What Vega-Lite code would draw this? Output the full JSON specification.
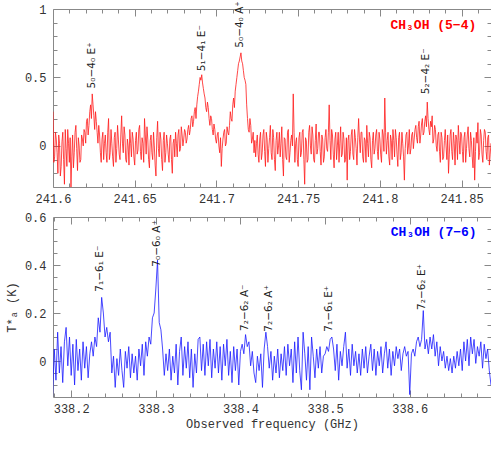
{
"$schema": "https://vega.github.io/schema/vega-lite/v6.json",
"padding": {"left": 4, "top": 0, "right": 1, "bottom": 5},
"spacing": 5,
"config": {
  "font": "Liberation Mono",
  "view": {"stroke": "#888", "strokeWidth": 1},
  "axis": {"grid": false, "domain": false, "labelFont": "Liberation Mono", "labelFontSize": 12, "labelColor": "#333", "titleFont": "Liberation Mono", "titleFontSize": 12, "titleFontWeight": "normal", "titleColor": "#333", "tickColor": "#888", "tickWidth": 1, "labelFlush": false, "labelOverlap": false}
},
"datasets": {
"s54": [
{"f":241.600,"t":0.25},{"f":241.601,"t":-0.08},{"f":241.602,"t":0.05},{"f":241.603,"t":-0.2},{"f":241.604,"t":0.02},{"f":241.605,"t":-0.15},{"f":241.606,"t":0.1},{"f":241.607,"t":-0.28},{"f":241.608,"t":-0.02},{"f":241.609,"t":0.12},
{"f":241.610,"t":-0.12},{"f":241.611,"t":-0.3},{"f":241.612,"t":0.08},{"f":241.613,"t":-0.05},{"f":241.614,"t":0.15},{"f":241.615,"t":-0.18},{"f":241.616,"t":0.0},{"f":241.617,"t":-0.1},{"f":241.618,"t":0.05},{"f":241.619,"t":0.12},
{"f":241.620,"t":0.02},{"f":241.621,"t":0.2},{"f":241.622,"t":0.15},{"f":241.623,"t":0.3},{"f":241.624,"t":0.38},{"f":241.625,"t":0.22},{"f":241.626,"t":0.25},{"f":241.627,"t":0.1},{"f":241.628,"t":0.15},{"f":241.629,"t":-0.05},
{"f":241.630,"t":0.05},{"f":241.631,"t":-0.1},{"f":241.632,"t":0.08},{"f":241.633,"t":-0.12},{"f":241.634,"t":0.2},{"f":241.635,"t":-0.05},{"f":241.636,"t":0.02},{"f":241.637,"t":-0.15},{"f":241.638,"t":0.1},{"f":241.639,"t":-0.02},
{"f":241.640,"t":0.05},{"f":241.641,"t":-0.1},{"f":241.642,"t":0.22},{"f":241.643,"t":-0.05},{"f":241.644,"t":0.08},{"f":241.645,"t":-0.12},{"f":241.646,"t":0.0},{"f":241.647,"t":0.12},{"f":241.648,"t":-0.08},{"f":241.649,"t":0.05},
{"f":241.650,"t":-0.14},{"f":241.651,"t":0.1},{"f":241.652,"t":-0.03},{"f":241.653,"t":0.15},{"f":241.654,"t":-0.1},{"f":241.655,"t":0.02},{"f":241.656,"t":0.2},{"f":241.657,"t":-0.06},{"f":241.658,"t":0.05},{"f":241.659,"t":-0.16},
{"f":241.660,"t":0.08},{"f":241.661,"t":-0.1},{"f":241.662,"t":0.0},{"f":241.663,"t":-0.22},{"f":241.664,"t":0.18},{"f":241.665,"t":-0.08},{"f":241.666,"t":0.05},{"f":241.667,"t":-0.18},{"f":241.668,"t":0.1},{"f":241.669,"t":-0.05},
{"f":241.670,"t":0.02},{"f":241.671,"t":-0.12},{"f":241.672,"t":0.08},{"f":241.673,"t":-0.2},{"f":241.674,"t":0.05},{"f":241.675,"t":0.1},{"f":241.676,"t":-0.08},{"f":241.677,"t":0.12},{"f":241.678,"t":-0.02},{"f":241.679,"t":0.08},
{"f":241.680,"t":0.05},{"f":241.681,"t":0.1},{"f":241.682,"t":0.05},{"f":241.683,"t":0.15},{"f":241.684,"t":0.12},{"f":241.685,"t":0.22},{"f":241.686,"t":0.18},{"f":241.687,"t":0.28},{"f":241.688,"t":0.3},{"f":241.689,"t":0.4},
{"f":241.690,"t":0.5},{"f":241.691,"t":0.52},{"f":241.692,"t":0.42},{"f":241.693,"t":0.35},{"f":241.694,"t":0.25},{"f":241.695,"t":0.28},{"f":241.696,"t":0.15},{"f":241.697,"t":0.2},{"f":241.698,"t":0.08},{"f":241.699,"t":0.12},
{"f":241.700,"t":0.02},{"f":241.701,"t":0.1},{"f":241.702,"t":-0.05},{"f":241.703,"t":-0.15},{"f":241.704,"t":0.05},{"f":241.705,"t":0.12},{"f":241.706,"t":0.02},{"f":241.707,"t":0.1},{"f":241.708,"t":0.15},{"f":241.709,"t":0.2},
{"f":241.710,"t":0.3},{"f":241.711,"t":0.28},{"f":241.712,"t":0.45},{"f":241.713,"t":0.55},{"f":241.714,"t":0.62},{"f":241.715,"t":0.68},{"f":241.716,"t":0.6},{"f":241.717,"t":0.5},{"f":241.718,"t":0.45},{"f":241.719,"t":0.2},
{"f":241.720,"t":0.1},{"f":241.721,"t":0.15},{"f":241.722,"t":0.05},{"f":241.723,"t":-0.05},{"f":241.724,"t":-0.08},{"f":241.725,"t":0.08},{"f":241.726,"t":-0.12},{"f":241.727,"t":0.1},{"f":241.728,"t":-0.05},{"f":241.729,"t":0.12},
{"f":241.730,"t":-0.15},{"f":241.731,"t":0.05},{"f":241.732,"t":-0.02},{"f":241.733,"t":0.15},{"f":241.734,"t":-0.1},{"f":241.735,"t":0.06},{"f":241.736,"t":-0.18},{"f":241.737,"t":0.1},{"f":241.738,"t":0.0},{"f":241.739,"t":-0.08},
{"f":241.740,"t":0.14},{"f":241.741,"t":-0.22},{"f":241.742,"t":0.05},{"f":241.743,"t":-0.1},{"f":241.744,"t":0.12},{"f":241.745,"t":-0.05},{"f":241.746,"t":0.08},{"f":241.747,"t":0.38},{"f":241.748,"t":-0.12},{"f":241.749,"t":0.06},
{"f":241.750,"t":-0.15},{"f":241.751,"t":0.1},{"f":241.752,"t":-0.05},{"f":241.753,"t":0.12},{"f":241.754,"t":-0.28},{"f":241.755,"t":0.04},{"f":241.756,"t":-0.1},{"f":241.757,"t":0.15},{"f":241.758,"t":-0.06},{"f":241.759,"t":0.08},
{"f":241.760,"t":-0.12},{"f":241.761,"t":0.16},{"f":241.762,"t":-0.02},{"f":241.763,"t":0.1},{"f":241.764,"t":-0.14},{"f":241.765,"t":0.05},{"f":241.766,"t":-0.08},{"f":241.767,"t":0.12},{"f":241.768,"t":-0.04},{"f":241.769,"t":0.3},
{"f":241.770,"t":-0.1},{"f":241.771,"t":0.08},{"f":241.772,"t":-0.16},{"f":241.773,"t":0.1},{"f":241.774,"t":0.0},{"f":241.775,"t":-0.12},{"f":241.776,"t":0.14},{"f":241.777,"t":-0.06},{"f":241.778,"t":0.05},{"f":241.779,"t":-0.1},
{"f":241.780,"t":-0.25},{"f":241.781,"t":0.08},{"f":241.782,"t":-0.04},{"f":241.783,"t":0.12},{"f":241.784,"t":-0.1},{"f":241.785,"t":0.06},{"f":241.786,"t":-0.14},{"f":241.787,"t":0.2},{"f":241.788,"t":-0.05},{"f":241.789,"t":0.1},
{"f":241.790,"t":-0.12},{"f":241.791,"t":0.04},{"f":241.792,"t":0.15},{"f":241.793,"t":-0.08},{"f":241.794,"t":0.06},{"f":241.795,"t":-0.16},{"f":241.796,"t":0.1},{"f":241.797,"t":-0.02},{"f":241.798,"t":0.12},{"f":241.799,"t":-0.1},
{"f":241.800,"t":0.05},{"f":241.801,"t":-0.12},{"f":241.802,"t":0.08},{"f":241.803,"t":0.35},{"f":241.804,"t":-0.06},{"f":241.805,"t":0.1},{"f":241.806,"t":-0.14},{"f":241.807,"t":0.04},{"f":241.808,"t":0.12},{"f":241.809,"t":-0.08},
{"f":241.810,"t":0.06},{"f":241.811,"t":-0.15},{"f":241.812,"t":0.1},{"f":241.813,"t":-0.05},{"f":241.814,"t":0.02},{"f":241.815,"t":-0.25},{"f":241.816,"t":0.08},{"f":241.817,"t":-0.06},{"f":241.818,"t":0.12},{"f":241.819,"t":-0.02},
{"f":241.820,"t":0.1},{"f":241.821,"t":0.05},{"f":241.822,"t":0.15},{"f":241.823,"t":0.02},{"f":241.824,"t":0.18},{"f":241.825,"t":0.08},{"f":241.826,"t":0.2},{"f":241.827,"t":0.1},{"f":241.828,"t":0.22},{"f":241.829,"t":0.32},
{"f":241.830,"t":0.12},{"f":241.831,"t":0.18},{"f":241.832,"t":0.22},{"f":241.833,"t":0.05},{"f":241.834,"t":0.12},{"f":241.835,"t":-0.04},{"f":241.836,"t":0.1},{"f":241.837,"t":-0.12},{"f":241.838,"t":0.06},{"f":241.839,"t":-0.08},
{"f":241.840,"t":0.12},{"f":241.841,"t":-0.1},{"f":241.842,"t":-0.2},{"f":241.843,"t":0.08},{"f":241.844,"t":-0.04},{"f":241.845,"t":0.1},{"f":241.846,"t":-0.14},{"f":241.847,"t":0.05},{"f":241.848,"t":0.15},{"f":241.849,"t":-0.06},
{"f":241.850,"t":0.08},{"f":241.851,"t":-0.12},{"f":241.852,"t":0.1},{"f":241.853,"t":-0.02},{"f":241.854,"t":0.14},{"f":241.855,"t":-0.08},{"f":241.856,"t":0.04},{"f":241.857,"t":-0.16},{"f":241.858,"t":-0.25},{"f":241.859,"t":0.1},
{"f":241.860,"t":0.17},{"f":241.861,"t":-0.05},{"f":241.862,"t":0.08},{"f":241.863,"t":-0.12},{"f":241.864,"t":0.12},{"f":241.865,"t":-0.04},{"f":241.866,"t":0.06},{"f":241.867,"t":-0.14},{"f":241.868,"t":0.02},
{"f":241.6005,"t":-0.12},{"f":241.6015,"t":0.1},{"f":241.6025,"t":-0.05},{"f":241.6035,"t":0.08},{"f":241.6045,"t":-0.22},{"f":241.6055,"t":0.03},{"f":241.6065,"t":-0.1},{"f":241.6075,"t":0.12},{"f":241.6085,"t":-0.15},{"f":241.6095,"t":0.02},
{"f":241.6105,"t":0.06},{"f":241.6115,"t":-0.08},{"f":241.6125,"t":-0.16},{"f":241.6135,"t":0.1},{"f":241.6145,"t":-0.02},{"f":241.6155,"t":0.06},{"f":241.6165,"t":-0.12},{"f":241.6175,"t":0.08},{"f":241.6185,"t":0.0},{"f":241.6195,"t":0.1},
{"f":241.6205,"t":0.18},{"f":241.6215,"t":0.08},{"f":241.6225,"t":0.25},{"f":241.6235,"t":0.2},{"f":241.6245,"t":0.3},{"f":241.6255,"t":0.12},{"f":241.6265,"t":0.18},{"f":241.6275,"t":0.02},{"f":241.6285,"t":0.08},{"f":241.6295,"t":-0.12},
{"f":241.6305,"t":0.1},{"f":241.6315,"t":0.02},{"f":241.6325,"t":-0.05},{"f":241.6335,"t":0.1},{"f":241.6345,"t":-0.1},{"f":241.6355,"t":0.12},{"f":241.6365,"t":-0.08},{"f":241.6375,"t":0.06},{"f":241.6385,"t":-0.12},{"f":241.6395,"t":0.15},
{"f":241.6405,"t":-0.06},{"f":241.6415,"t":0.08},{"f":241.6425,"t":0.02},{"f":241.6435,"t":0.14},{"f":241.6445,"t":-0.1},{"f":241.6455,"t":0.05},{"f":241.6465,"t":-0.14},{"f":241.6475,"t":0.02},{"f":241.6485,"t":0.1},{"f":241.6495,"t":-0.08},
{"f":241.6505,"t":0.04},{"f":241.6515,"t":-0.06},{"f":241.6525,"t":0.12},{"f":241.6535,"t":-0.04},{"f":241.6545,"t":0.06},{"f":241.6555,"t":-0.12},{"f":241.6565,"t":0.08},{"f":241.6575,"t":0.14},{"f":241.6585,"t":-0.1},{"f":241.6595,"t":0.04},
{"f":241.6605,"t":-0.05},{"f":241.6615,"t":0.1},{"f":241.6625,"t":-0.14},{"f":241.6635,"t":0.06},{"f":241.6645,"t":-0.02},{"f":241.6655,"t":0.1},{"f":241.6665,"t":-0.1},{"f":241.6675,"t":0.04},{"f":241.6685,"t":-0.12},{"f":241.6695,"t":0.08},
{"f":241.6705,"t":-0.06},{"f":241.6715,"t":0.05},{"f":241.6725,"t":-0.1},{"f":241.6735,"t":0.02},{"f":241.6745,"t":-0.08},{"f":241.6755,"t":0.02},{"f":241.6765,"t":0.08},{"f":241.6775,"t":-0.04},{"f":241.6785,"t":0.14},{"f":241.6795,"t":0.0},
{"f":241.6805,"t":0.12},{"f":241.6815,"t":0.02},{"f":241.6825,"t":0.12},{"f":241.6835,"t":0.08},{"f":241.6845,"t":0.2},{"f":241.6855,"t":0.14},{"f":241.6865,"t":0.25},{"f":241.6875,"t":0.2},{"f":241.6885,"t":0.36},{"f":241.6895,"t":0.45},
{"f":241.6905,"t":0.48},{"f":241.6915,"t":0.46},{"f":241.6925,"t":0.38},{"f":241.6935,"t":0.28},{"f":241.6945,"t":0.32},{"f":241.6955,"t":0.2},{"f":241.6965,"t":0.22},{"f":241.6975,"t":0.12},{"f":241.6985,"t":0.16},{"f":241.6995,"t":0.05},
{"f":241.7005,"t":0.08},{"f":241.7015,"t":0.0},{"f":241.7025,"t":0.06},{"f":241.7035,"t":-0.02},{"f":241.7045,"t":0.1},{"f":241.7055,"t":0.0},{"f":241.7065,"t":0.14},{"f":241.7075,"t":0.08},{"f":241.7085,"t":0.25},{"f":241.7095,"t":0.18},
{"f":241.7105,"t":0.35},{"f":241.7115,"t":0.4},{"f":241.7125,"t":0.5},{"f":241.7135,"t":0.6},{"f":241.7145,"t":0.65},{"f":241.7155,"t":0.62},{"f":241.7165,"t":0.55},{"f":241.7175,"t":0.48},{"f":241.7185,"t":0.3},{"f":241.7195,"t":0.12},
{"f":241.7205,"t":0.2},{"f":241.7215,"t":0.02},{"f":241.7225,"t":0.1},{"f":241.7235,"t":0.04},{"f":241.7245,"t":0.02},{"f":241.7255,"t":-0.06},{"f":241.7265,"t":0.05},{"f":241.7275,"t":-0.1},{"f":241.7285,"t":0.08},{"f":241.7295,"t":-0.04},
{"f":241.7305,"t":0.1},{"f":241.7315,"t":-0.12},{"f":241.7325,"t":0.06},{"f":241.7335,"t":-0.05},{"f":241.7345,"t":0.12},{"f":241.7355,"t":-0.1},{"f":241.7365,"t":0.04},{"f":241.7375,"t":-0.06},{"f":241.7385,"t":0.1},{"f":241.7395,"t":0.02},
{"f":241.7405,"t":-0.1},{"f":241.7415,"t":0.06},{"f":241.7425,"t":-0.08},{"f":241.7435,"t":0.1},{"f":241.7445,"t":-0.12},{"f":241.7455,"t":0.04},{"f":241.7465,"t":0.0},{"f":241.7475,"t":0.1},{"f":241.7485,"t":0.02},{"f":241.7495,"t":-0.1},
{"f":241.7505,"t":0.06},{"f":241.7515,"t":-0.08},{"f":241.7525,"t":0.1},{"f":241.7535,"t":-0.1},{"f":241.7545,"t":0.06},{"f":241.7555,"t":-0.12},{"f":241.7565,"t":0.1},{"f":241.7575,"t":0.0},{"f":241.7585,"t":0.14},{"f":241.7595,"t":-0.1},
{"f":241.7605,"t":0.04},{"f":241.7615,"t":-0.06},{"f":241.7625,"t":0.1},{"f":241.7635,"t":-0.04},{"f":241.7645,"t":0.08},{"f":241.7655,"t":-0.12},{"f":241.7665,"t":0.06},{"f":241.7675,"t":-0.02},{"f":241.7685,"t":0.1},{"f":241.7695,"t":0.04},
{"f":241.7705,"t":0.12},{"f":241.7715,"t":-0.06},{"f":241.7725,"t":0.05},{"f":241.7735,"t":-0.1},{"f":241.7745,"t":0.1},{"f":241.7755,"t":0.02},{"f":241.7765,"t":-0.08},{"f":241.7775,"t":0.1},{"f":241.7785,"t":-0.12},{"f":241.7795,"t":0.06},
{"f":241.7805,"t":0.04},{"f":241.7815,"t":-0.1},{"f":241.7825,"t":0.08},{"f":241.7835,"t":-0.06},{"f":241.7845,"t":0.12},{"f":241.7855,"t":-0.02},{"f":241.7865,"t":0.06},{"f":241.7875,"t":0.05},{"f":241.7885,"t":0.1},{"f":241.7895,"t":-0.08},
{"f":241.7905,"t":0.06},{"f":241.7915,"t":-0.12},{"f":241.7925,"t":0.02},{"f":241.7935,"t":0.1},{"f":241.7945,"t":-0.1},{"f":241.7955,"t":0.04},{"f":241.7965,"t":-0.06},{"f":241.7975,"t":0.08},{"f":241.7985,"t":-0.04},{"f":241.7995,"t":0.1},
{"f":241.8005,"t":-0.06},{"f":241.8015,"t":0.12},{"f":241.8025,"t":-0.04},{"f":241.8035,"t":0.1},{"f":241.8045,"t":0.04},{"f":241.8055,"t":-0.08},{"f":241.8065,"t":0.08},{"f":241.8075,"t":-0.1},{"f":241.8085,"t":0.04},{"f":241.8095,"t":0.12},
{"f":241.8105,"t":-0.06},{"f":241.8115,"t":0.06},{"f":241.8125,"t":-0.1},{"f":241.8135,"t":0.1},{"f":241.8145,"t":-0.08},{"f":241.8155,"t":-0.02},{"f":241.8165,"t":0.1},{"f":241.8175,"t":0.0},{"f":241.8185,"t":-0.06},{"f":241.8195,"t":0.08},
{"f":241.8205,"t":-0.02},{"f":241.8215,"t":0.12},{"f":241.8225,"t":0.06},{"f":241.8235,"t":0.14},{"f":241.8245,"t":0.02},{"f":241.8255,"t":0.16},{"f":241.8265,"t":0.08},{"f":241.8275,"t":0.18},{"f":241.8285,"t":0.14},{"f":241.8295,"t":0.2},
{"f":241.8305,"t":0.08},{"f":241.8315,"t":0.14},{"f":241.8325,"t":0.02},{"f":241.8335,"t":0.15},{"f":241.8345,"t":0.0},{"f":241.8355,"t":0.08},{"f":241.8365,"t":-0.04},{"f":241.8375,"t":0.1},{"f":241.8385,"t":-0.1},{"f":241.8395,"t":0.04},
{"f":241.8405,"t":0.0},{"f":241.8415,"t":0.08},{"f":241.8425,"t":-0.06},{"f":241.8435,"t":0.12},{"f":241.8445,"t":-0.1},{"f":241.8455,"t":0.02},{"f":241.8465,"t":0.08},{"f":241.8475,"t":-0.1},{"f":241.8485,"t":0.04},{"f":241.8495,"t":0.1},
{"f":241.8505,"t":-0.04},{"f":241.8515,"t":0.06},{"f":241.8525,"t":-0.12},{"f":241.8535,"t":0.08},{"f":241.8545,"t":-0.02},{"f":241.8555,"t":0.1},{"f":241.8565,"t":-0.08},{"f":241.8575,"t":0.06},{"f":241.8585,"t":-0.04},{"f":241.8595,"t":0.02},
{"f":241.8605,"t":-0.1},{"f":241.8615,"t":0.12},{"f":241.8625,"t":-0.06},{"f":241.8635,"t":0.04},{"f":241.8645,"t":0.1},{"f":241.8655,"t":-0.1},{"f":241.8665,"t":0.08},{"f":241.8675,"t":-0.06}
],
"s76": [
{"f":338.178,"t":-0.15},{"f":338.180,"t":0.05},{"f":338.182,"t":-0.08},{"f":338.184,"t":0.12},{"f":338.186,"t":-0.05},{"f":338.188,"t":0.06},{"f":338.190,"t":-0.09},{"f":338.192,"t":0.08},{"f":338.194,"t":0.14},{"f":338.196,"t":-0.02},
{"f":338.198,"t":0.1},{"f":338.200,"t":-0.06},{"f":338.202,"t":0.07},{"f":338.204,"t":-0.1},{"f":338.206,"t":0.09},{"f":338.208,"t":-0.04},{"f":338.210,"t":0.05},{"f":338.212,"t":-0.08},{"f":338.214,"t":0.08},{"f":338.216,"t":-0.03},
{"f":338.218,"t":0.06},{"f":338.220,"t":-0.07},{"f":338.222,"t":0.03},{"f":338.224,"t":0.08},{"f":338.226,"t":0.02},{"f":338.228,"t":0.1},{"f":338.230,"t":0.06},{"f":338.232,"t":0.18},{"f":338.234,"t":0.12},{"f":338.236,"t":0.265},
{"f":338.238,"t":0.2},{"f":338.240,"t":0.1},{"f":338.242,"t":0.14},{"f":338.244,"t":0.08},{"f":338.246,"t":0.12},{"f":338.248,"t":-0.05},{"f":338.250,"t":0.02},{"f":338.252,"t":-0.11},{"f":338.254,"t":0.01},{"f":338.256,"t":-0.06},
{"f":338.258,"t":0.05},{"f":338.260,"t":-0.04},{"f":338.262,"t":-0.11},{"f":338.264,"t":0.04},{"f":338.266,"t":-0.03},{"f":338.268,"t":0.06},{"f":338.270,"t":-0.07},{"f":338.272,"t":0.03},{"f":338.274,"t":-0.05},{"f":338.276,"t":0.02},
{"f":338.278,"t":-0.08},{"f":338.280,"t":0.05},{"f":338.282,"t":-0.02},{"f":338.284,"t":0.07},{"f":338.286,"t":-0.06},{"f":338.288,"t":0.08},{"f":338.290,"t":0.02},{"f":338.292,"t":0.1},{"f":338.294,"t":0.07},{"f":338.296,"t":0.18},
{"f":338.298,"t":0.2},{"f":338.300,"t":0.3},{"f":338.302,"t":0.42},{"f":338.304,"t":0.16},{"f":338.306,"t":0.13},{"f":338.308,"t":0.05},{"f":338.310,"t":-0.06},{"f":338.312,"t":0.03},{"f":338.314,"t":-0.04},{"f":338.316,"t":0.05},
{"f":338.318,"t":-0.08},{"f":338.320,"t":0.02},{"f":338.322,"t":-0.05},{"f":338.324,"t":0.07},{"f":338.326,"t":-0.1},{"f":338.328,"t":0.04},{"f":338.330,"t":0.1},{"f":338.332,"t":-0.06},{"f":338.334,"t":0.06},{"f":338.336,"t":-0.03},
{"f":338.338,"t":0.08},{"f":338.340,"t":-0.07},{"f":338.342,"t":0.05},{"f":338.344,"t":-0.11},{"f":338.346,"t":0.03},{"f":338.348,"t":-0.05},{"f":338.350,"t":0.09},{"f":338.352,"t":0.1},{"f":338.354,"t":-0.04},{"f":338.356,"t":0.07},
{"f":338.358,"t":-0.06},{"f":338.360,"t":0.08},{"f":338.362,"t":-0.02},{"f":338.364,"t":0.09},{"f":338.366,"t":-0.07},{"f":338.368,"t":0.05},{"f":338.370,"t":-0.03},{"f":338.372,"t":0.08},{"f":338.374,"t":-0.05},{"f":338.376,"t":0.06},
{"f":338.378,"t":-0.08},{"f":338.380,"t":0.07},{"f":338.382,"t":-0.02},{"f":338.384,"t":0.09},{"f":338.386,"t":-0.06},{"f":338.388,"t":0.04},{"f":338.390,"t":-0.09},{"f":338.392,"t":0.06},{"f":338.394,"t":-0.04},{"f":338.396,"t":0.05},
{"f":338.398,"t":-0.1},{"f":338.400,"t":0.04},{"f":338.402,"t":0.07},{"f":338.404,"t":0.03},{"f":338.406,"t":0.11},{"f":338.408,"t":0.06},{"f":338.410,"t":0.08},{"f":338.412,"t":-0.02},{"f":338.414,"t":0.04},{"f":338.416,"t":-0.05},
{"f":338.418,"t":-0.09},{"f":338.420,"t":0.02},{"f":338.422,"t":-0.04},{"f":338.424,"t":0.03},{"f":338.426,"t":-0.11},{"f":338.428,"t":0.05},{"f":338.430,"t":0.12},{"f":338.432,"t":0.06},{"f":338.434,"t":-0.03},{"f":338.436,"t":0.04},
{"f":338.438,"t":-0.08},{"f":338.440,"t":0.02},{"f":338.442,"t":-0.05},{"f":338.444,"t":0.05},{"f":338.446,"t":-0.07},{"f":338.448,"t":0.03},{"f":338.450,"t":-0.04},{"f":338.452,"t":0.06},{"f":338.454,"t":-0.06},{"f":338.456,"t":0.07},
{"f":338.458,"t":-0.02},{"f":338.460,"t":0.05},{"f":338.462,"t":-0.09},{"f":338.464,"t":0.08},{"f":338.466,"t":-0.05},{"f":338.468,"t":0.1},{"f":338.470,"t":-0.04},{"f":338.472,"t":-0.12},{"f":338.474,"t":0.12},{"f":338.476,"t":0.03},
{"f":338.478,"t":-0.08},{"f":338.480,"t":0.06},{"f":338.482,"t":-0.12},{"f":338.484,"t":0.1},{"f":338.486,"t":0.02},{"f":338.488,"t":-0.07},{"f":338.490,"t":0.05},{"f":338.492,"t":-0.03},{"f":338.494,"t":0.06},{"f":338.496,"t":-0.05},
{"f":338.498,"t":0.02},{"f":338.500,"t":0.03},{"f":338.502,"t":0.06},{"f":338.504,"t":0.04},{"f":338.506,"t":0.09},{"f":338.508,"t":0.1},{"f":338.510,"t":0.05},{"f":338.512,"t":-0.04},{"f":338.514,"t":0.07},{"f":338.516,"t":-0.08},
{"f":338.518,"t":0.04},{"f":338.520,"t":-0.02},{"f":338.522,"t":0.06},{"f":338.524,"t":0.12},{"f":338.526,"t":-0.03},{"f":338.528,"t":0.05},{"f":338.530,"t":-0.06},{"f":338.532,"t":0.07},{"f":338.534,"t":-0.02},{"f":338.536,"t":0.04},
{"f":338.538,"t":-0.05},{"f":338.540,"t":0.03},{"f":338.542,"t":-0.06},{"f":338.544,"t":0.05},{"f":338.546,"t":-0.03},{"f":338.548,"t":0.06},{"f":338.550,"t":-0.05},{"f":338.552,"t":0.02},{"f":338.554,"t":0.07},{"f":338.556,"t":-0.04},
{"f":338.558,"t":0.05},{"f":338.560,"t":-0.06},{"f":338.562,"t":0.04},{"f":338.564,"t":-0.02},{"f":338.566,"t":0.06},{"f":338.568,"t":-0.05},{"f":338.570,"t":0.03},{"f":338.572,"t":0.08},{"f":338.574,"t":-0.03},{"f":338.576,"t":0.05},
{"f":338.578,"t":-0.06},{"f":338.580,"t":0.04},{"f":338.582,"t":-0.02},{"f":338.584,"t":0.06},{"f":338.586,"t":0.01},{"f":338.588,"t":0.05},{"f":338.590,"t":-0.04},{"f":338.592,"t":0.03},{"f":338.594,"t":0.06},{"f":338.596,"t":0.02},
{"f":338.598,"t":0.04},{"f":338.600,"t":-0.14},{"f":338.602,"t":0.03},{"f":338.604,"t":0.05},{"f":338.606,"t":0.02},{"f":338.608,"t":0.08},{"f":338.610,"t":0.1},{"f":338.612,"t":0.06},{"f":338.614,"t":0.09},{"f":338.616,"t":0.21},
{"f":338.618,"t":0.05},{"f":338.620,"t":0.09},{"f":338.622,"t":0.03},{"f":338.624,"t":0.1},{"f":338.626,"t":0.05},{"f":338.628,"t":0.11},{"f":338.630,"t":0.02},{"f":338.632,"t":0.08},{"f":338.634,"t":-0.02},{"f":338.636,"t":0.06},
{"f":338.638,"t":0.0},{"f":338.640,"t":0.04},{"f":338.642,"t":-0.03},{"f":338.644,"t":0.02},{"f":338.646,"t":-0.04},{"f":338.648,"t":0.01},{"f":338.650,"t":-0.05},{"f":338.652,"t":0.02},{"f":338.654,"t":-0.03},{"f":338.656,"t":0.04},
{"f":338.658,"t":-0.02},{"f":338.660,"t":0.05},{"f":338.662,"t":-0.04},{"f":338.664,"t":0.08},{"f":338.666,"t":0.0},{"f":338.668,"t":0.09},{"f":338.670,"t":-0.02},{"f":338.672,"t":0.1},{"f":338.674,"t":0.03},{"f":338.676,"t":0.09},
{"f":338.678,"t":-0.01},{"f":338.680,"t":0.06},{"f":338.682,"t":0.02},{"f":338.684,"t":0.08},{"f":338.686,"t":-0.03},{"f":338.688,"t":0.07},{"f":338.690,"t":0.01},{"f":338.692,"t":0.05},{"f":338.694,"t":-0.04},{"f":338.696,"t":-0.1}
],
"l54": [
{"f":241.6237,"t":0.42,"txt":"5₀−4₀ E⁺"},
{"f":241.691,"t":0.546,"txt":"5₁−4₁ E⁻"},
{"f":241.7146,"t":0.717,"txt":"5₀−4₀ A⁺"},
{"f":241.828,"t":0.377,"txt":"5₂−4₂ E⁻"}
],
"l76": [
{"f":338.234,"t":0.289,"txt":"7₁−6₁ E⁻"},
{"f":338.301,"t":0.393,"txt":"7₀−6₀ A⁺"},
{"f":338.405,"t":0.125,"txt":"7₂−6₂ A⁻"},
{"f":338.434,"t":0.122,"txt":"7₂−6₂ A⁺"},
{"f":338.505,"t":0.122,"txt":"7₁−6₁ E⁺"},
{"f":338.614,"t":0.2125,"txt":"7₂−6₂ E⁺"}
],
"h54": [{"f":241.859,"t":0.885,"txt":"CH₃OH (5−4)"}],
"h76": [{"f":338.679,"t":0.536,"txt":"CH₃OH (7−6)"}]
},
"vconcat": [
{
 "width": 438, "height": 178,
 "resolve": {"axis": {"x": "independent", "y": "independent"}},
 "layer": [
  {"data": {"name": "s54"},
   "mark": {"type": "line", "color": "#ff1a1a", "strokeWidth": 0.8, "clip": true},
   "encoding": {
    "x": {"field": "f", "type": "quantitative", "scale": {"domain": [241.6, 241.868], "nice": false, "zero": false},
      "axis": {"orient": "bottom", "title": null, "ticks": false, "values": [241.6, 241.65, 241.7, 241.75, 241.8, 241.85], "labelExpr": "toString(round(datum.value*100)/100)", "labelPadding": 6}},
    "y": {"field": "t", "type": "quantitative", "scale": {"domain": [-0.3, 1], "nice": false, "zero": false},
      "axis": {"orient": "left", "title": null, "ticks": false, "values": [0, 0.5, 1], "labelExpr": "toString(datum.value)", "labelPadding": 7}}
   }},
  {"data": {"name": "l54"},
   "mark": {"type": "text", "angle": 270, "align": "left", "baseline": "middle", "font": "DejaVu Sans", "fontSize": 10.5, "color": "#222"},
   "encoding": {
    "x": {"field": "f", "type": "quantitative", "scale": {"domain": [241.6, 241.868], "nice": false, "zero": false},
      "axis": {"orient": "top", "title": null, "labels": false, "tickSize": -7, "values": [241.6,241.65,241.7,241.75,241.8,241.85]}},
    "y": {"field": "t", "type": "quantitative", "scale": {"domain": [-0.3, 1], "nice": false, "zero": false},
      "axis": {"orient": "right", "title": null, "labels": false, "tickSize": -7, "values": [0, 0.5]}},
    "text": {"field": "txt"}
   }},
  {"data": {"name": "h54"},
   "mark": {"type": "text", "align": "right", "baseline": "middle", "font": "Liberation Mono", "fontSize": 13, "fontWeight": "bold", "color": "#ff0000"},
   "encoding": {
    "x": {"field": "f", "type": "quantitative", "scale": {"domain": [241.6, 241.868], "nice": false, "zero": false},
      "axis": {"orient": "bottom", "title": null, "labels": false, "tickSize": -7, "values": [241.6,241.65,241.7,241.75,241.8,241.85]}},
    "y": {"field": "t", "type": "quantitative", "scale": {"domain": [-0.3, 1], "nice": false, "zero": false},
      "axis": {"orient": "left", "title": null, "labels": false, "tickSize": -7, "values": [0, 0.5]}},
    "text": {"field": "txt"}
   }},
  {"data": {"name": "h54"},
   "mark": {"type": "point", "opacity": 0},
   "encoding": {
    "x": {"field": "f", "type": "quantitative", "scale": {"domain": [241.6, 241.868], "nice": false, "zero": false},
      "axis": {"orient": "top", "title": null, "labels": false, "tickSize": -4, "values": [241.61,241.62,241.63,241.64,241.66,241.67,241.68,241.69,241.71,241.72,241.73,241.74,241.76,241.77,241.78,241.79,241.81,241.82,241.83,241.84,241.86]}},
    "y": {"field": "t", "type": "quantitative", "scale": {"domain": [-0.3, 1], "nice": false, "zero": false},
      "axis": {"orient": "right", "title": null, "labels": false, "tickSize": -4, "values": [-0.2,-0.1,0.1,0.2,0.3,0.4,0.6,0.7,0.8,0.9]}}
   }},
  {"data": {"name": "h54"},
   "mark": {"type": "point", "opacity": 0},
   "encoding": {
    "x": {"field": "f", "type": "quantitative", "scale": {"domain": [241.6, 241.868], "nice": false, "zero": false},
      "axis": {"orient": "bottom", "title": null, "labels": false, "tickSize": -4, "values": [241.61,241.62,241.63,241.64,241.66,241.67,241.68,241.69,241.71,241.72,241.73,241.74,241.76,241.77,241.78,241.79,241.81,241.82,241.83,241.84,241.86]}},
    "y": {"field": "t", "type": "quantitative", "scale": {"domain": [-0.3, 1], "nice": false, "zero": false},
      "axis": {"orient": "left", "title": null, "labels": false, "tickSize": -4, "values": [-0.2,-0.1,0.1,0.2,0.3,0.4,0.6,0.7,0.8,0.9]}}
   }}
 ]
},
{
 "width": 438, "height": 180,
 "resolve": {"axis": {"x": "independent", "y": "independent"}},
 "layer": [
  {"data": {"name": "s76"},
   "mark": {"type": "line", "color": "#1a1aff", "strokeWidth": 0.8, "clip": true},
   "encoding": {
    "x": {"field": "f", "type": "quantitative", "scale": {"domain": [338.1785, 338.696], "nice": false, "zero": false},
      "axis": {"orient": "bottom", "title": "Observed frequency (GHz)", "titlePadding": 4, "ticks": false, "values": [338.2, 338.3, 338.4, 338.5, 338.6], "labelExpr": "toString(round(datum.value*10)/10)", "labelPadding": 6}},
    "y": {"field": "t", "type": "quantitative", "scale": {"domain": [-0.15, 0.6], "nice": false, "zero": false},
      "axis": {"orient": "left", "title": "T*ₐ (K)", "titlePadding": 6, "ticks": false, "values": [0, 0.2, 0.4, 0.6], "labelExpr": "toString(datum.value)", "labelPadding": 7}}
   }},
  {"data": {"name": "l76"},
   "mark": {"type": "text", "angle": 270, "align": "left", "baseline": "middle", "font": "DejaVu Sans", "fontSize": 10.5, "color": "#222"},
   "encoding": {
    "x": {"field": "f", "type": "quantitative", "scale": {"domain": [338.1785, 338.696], "nice": false, "zero": false},
      "axis": {"orient": "top", "title": null, "labels": false, "tickSize": -7, "values": [338.2,338.3,338.4,338.5,338.6]}},
    "y": {"field": "t", "type": "quantitative", "scale": {"domain": [-0.15, 0.6], "nice": false, "zero": false},
      "axis": {"orient": "right", "title": null, "labels": false, "tickSize": -7, "values": [0, 0.2, 0.4]}},
    "text": {"field": "txt"}
   }},
  {"data": {"name": "h76"},
   "mark": {"type": "text", "align": "right", "baseline": "middle", "font": "Liberation Mono", "fontSize": 13, "fontWeight": "bold", "color": "#0000ff"},
   "encoding": {
    "x": {"field": "f", "type": "quantitative", "scale": {"domain": [338.1785, 338.696], "nice": false, "zero": false},
      "axis": {"orient": "bottom", "title": null, "labels": false, "tickSize": -7, "values": [338.2,338.3,338.4,338.5,338.6]}},
    "y": {"field": "t", "type": "quantitative", "scale": {"domain": [-0.15, 0.6], "nice": false, "zero": false},
      "axis": {"orient": "left", "title": null, "labels": false, "tickSize": -7, "values": [0, 0.2, 0.4]}},
    "text": {"field": "txt"}
   }},
  {"data": {"name": "h76"},
   "mark": {"type": "point", "opacity": 0},
   "encoding": {
    "x": {"field": "f", "type": "quantitative", "scale": {"domain": [338.1785, 338.696], "nice": false, "zero": false},
      "axis": {"orient": "top", "title": null, "labels": false, "tickSize": -4, "values": [338.18,338.22,338.24,338.26,338.28,338.32,338.34,338.36,338.38,338.42,338.44,338.46,338.48,338.52,338.54,338.56,338.58,338.62,338.64,338.66,338.68]}},
    "y": {"field": "t", "type": "quantitative", "scale": {"domain": [-0.15, 0.6], "nice": false, "zero": false},
      "axis": {"orient": "right", "title": null, "labels": false, "tickSize": -4, "values": [-0.1,-0.05,0.05,0.1,0.15,0.25,0.3,0.35,0.45,0.5,0.55]}}
   }},
  {"data": {"name": "h76"},
   "mark": {"type": "point", "opacity": 0},
   "encoding": {
    "x": {"field": "f", "type": "quantitative", "scale": {"domain": [338.1785, 338.696], "nice": false, "zero": false},
      "axis": {"orient": "bottom", "title": null, "labels": false, "tickSize": -4, "values": [338.18,338.22,338.24,338.26,338.28,338.32,338.34,338.36,338.38,338.42,338.44,338.46,338.48,338.52,338.54,338.56,338.58,338.62,338.64,338.66,338.68]}},
    "y": {"field": "t", "type": "quantitative", "scale": {"domain": [-0.15, 0.6], "nice": false, "zero": false},
      "axis": {"orient": "left", "title": null, "labels": false, "tickSize": -4, "values": [-0.1,-0.05,0.05,0.1,0.15,0.25,0.3,0.35,0.45,0.5,0.55]}}
   }}
 ]
}
]
}
